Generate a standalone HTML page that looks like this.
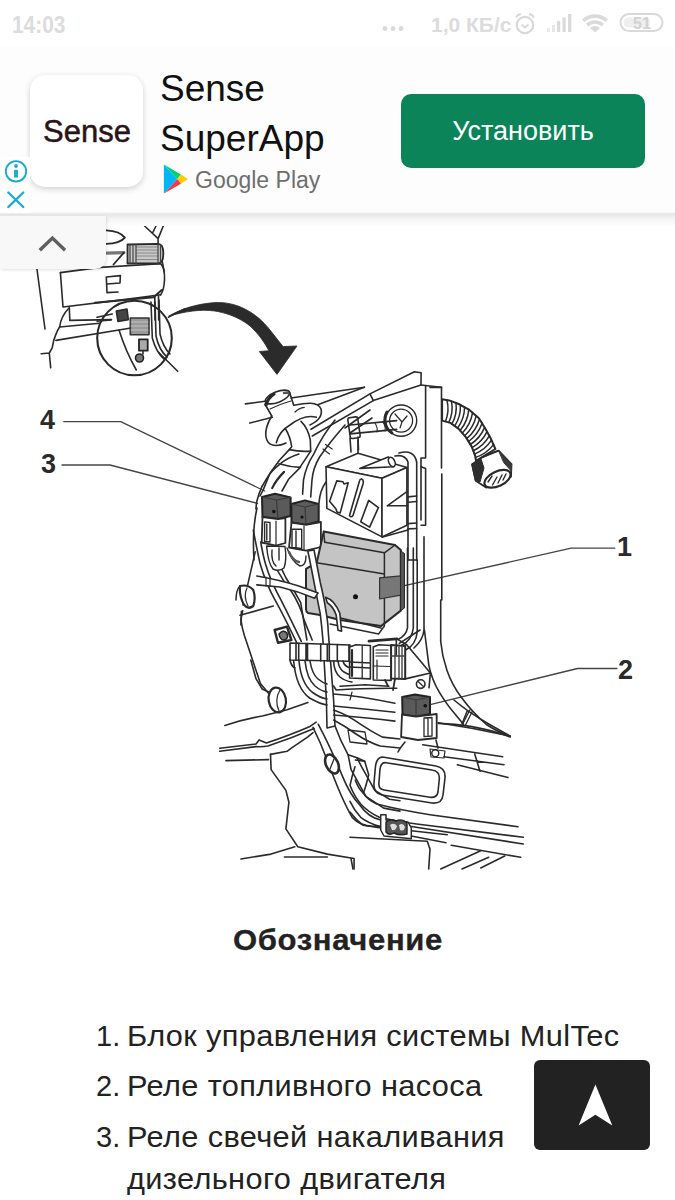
<!DOCTYPE html>
<html><head><meta charset="utf-8">
<style>
*{margin:0;padding:0;box-sizing:border-box}
html,body{width:675px;height:1200px;overflow:hidden;background:#fff;font-family:"Liberation Sans",sans-serif}
.abs{position:absolute}
#status{left:0;top:0;width:675px;height:50px;color:#dcdcdc;font-weight:bold}
#ad{left:0;top:47px;width:675px;height:167px;background:#fdfdfd}
#adline{left:0;top:212px;width:675px;height:6px;background:linear-gradient(#fafafa,#e6e6e6 40%,#f2f2f2)}
#shade{left:0;top:218px;width:675px;height:8px;background:linear-gradient(#f3f3f3,#fff)}
#icon{left:30px;top:75px;width:113px;height:112px;border-radius:15px;background:#fff;box-shadow:0 2px 6px rgba(0,0,0,.18)}
#tab{left:0;top:216px;width:106px;height:53px;background:#f8f8f8;border-radius:0 0 11px 0;box-shadow:1px 1px 3px rgba(0,0,0,.12)}
#btn{left:401px;top:94px;width:244px;height:74px;border-radius:10px;background:#0b845a;color:#fff;font-size:27px;text-align:center;line-height:74px}
.t{position:absolute;white-space:nowrap}
#diag{position:absolute;left:0;top:0}
#up{left:534px;top:1060px;width:116px;height:90px;border-radius:6px;background:#222}
</style></head><body>
<svg id="diag" width="675" height="1200" viewBox="0 0 675 1200" fill="none" stroke="#2a2a2a" stroke-width="1.6" stroke-linecap="round" stroke-linejoin="round">

<path d="M36 262 L45 329"/>
<path d="M60.4 272.6 L63 307 L130 298.9 L160.7 294.8"/>
<path d="M60.4 272.6 L100 267.4 L160.7 263.7 Q165 268 164.5 280 Q164 290 160.7 294.8"/>
<path d="M107 284 L120 283 L120.4 275.6 L106.3 277 L107 292.6 L118 292"/>
<path d="M106.2 230.3 Q120 231 124.9 237.6 Q120 243.5 106.2 243.8" stroke-width="1.8"/>
<path d="M106.2 253.1 L123.9 252.6" stroke-width="3.2" stroke="#777"/>
<path d="M123.9 252.6 L113.5 264.5" stroke-width="1.8"/>
<path d="M127.5 244.5 L158 243.8 Q163.5 244 163.3 253.5 Q163.5 263 158 263.5 L127.5 263.5 Z" fill="#c8c8c8" stroke-width="1.8"/>
<path d="M136 247 H158 M136 250 H158 M136 253 H158 M136 256 H158 M136 259.5 H158" stroke="#8a8a8a" stroke-width="1"/>
<path d="M130 244.5 V263.5 M133 244.5 V263.5 M136 244.5 V263.5 M158 244 V263.5 M160.5 245 V262.5" stroke="#444" stroke-width="1.2"/>
<path d="M144.6 226 L158.1 238.6 L158.1 243.8 M156 226 L152.9 232.4 M163.3 226 L158.1 238.6"/>
<path d="M162.2 261.4 L164.3 272"/>
<path d="M69.3 307.8 Q61 316 59.6 327 Q57 331 55.9 334.4 L53.7 340.4 L52.2 347.8 L49.3 353 L50.7 367.8 M49.3 353 L41.1 353.7"/>
<path d="M69.3 307.8 L69.8 320.4 L111.5 319.6 M59.6 327 L99.6 323.3"/>
<path d="M55.9 340.4 L131 328"/>
<path d="M154.8 296 L155 320 M158.5 296 L158.7 320"/>

<circle cx="134.5" cy="338" r="37.3" stroke-width="2.1"/>
<path d="M95 302.7 L153.7 297.3 L161.7 290" stroke-width="2"/>
<path d="M97 317.3 L112.3 314 M97 321.3 L111 320"/>
<path d="M119 330 Q126 352 136.3 370"/>
<path d="M151 302 L152.3 338 Q156 352 164.3 359.3 M155 302 L156 336 Q159 350 167 357 M159 300 L160 334 Q163 347 170 354"/>
<path d="M159 352.7 L177.7 371.3"/>
<path d="M116.3 311 L127 309 L128.3 319.7 L118 321.5 Z" fill="#444"/>
<rect x="130.3" y="318" width="18.7" height="16.7" fill="#9a9a9a" stroke="#333"/>
<path d="M131 322 H148 M131 326 H148 M131 330 H148" stroke="#ccc" stroke-width="0.8"/>
<rect x="139" y="339.3" width="8.7" height="11.4" fill="#aaa" stroke="#222" stroke-width="1.8"/>
<circle cx="139.5" cy="358" r="4" fill="#777" stroke="#222"/>
<path d="M143 351 L143 354"/>

<path d="M168.9 316.1 C180 309.5 195 304 214.8 302.6 C236 301.3 256 312 270 330 L283 346.5 L297 346 L277 374.4 L259.3 351.5 L268.9 350.7 C262 338 253 327 244.4 321.9 C236 316.5 225 312.6 214.8 311 C200 309 185 311.5 168.9 316.1 Z" fill="#2b2b2b" stroke="#2b2b2b" stroke-width="0.8"/>
<path d="M168.3 317.3 L185 308.7" stroke-width="1.3"/>

<g stroke="#444" stroke-width="1.3">
<path d="M63.8 421.7 L120.7 421.7 L264.7 491"/>
<path d="M62 465 L110 465 L257.6 503.4"/>
<path d="M614.8 548.2 L571.2 548.2 L355.5 596.7"/>
<path d="M616.9 668.5 L577.5 668.5 L425.2 705.8"/>
</g>
<g fill="#2a2a2a" stroke="none" font-family="Liberation Sans" font-weight="bold" font-size="27">
<text x="40" y="429">4</text>
<text x="41" y="472.5">3</text>
<text x="617" y="555.5">1</text>
<text x="618" y="678.5">2</text>
</g>


<ellipse cx="277.5" cy="397" rx="13" ry="5.3" transform="rotate(-22 277.5 397)" stroke-width="1.6"/>
<path d="M266 405 Q268 398 274 394" stroke-width="3.2"/>
<path d="M284 393 Q288 392 289.5 394" stroke-width="2.5" stroke="#555"/>
<path d="M265 404 L271.7 416 M289.7 392.7 L293.7 405.3"/>
<path d="M270 409 Q280 404 291 401" stroke-width="1.1"/>
<path d="M293.7 405.3 C305 403 318 401 321 409 C323 416 318 421 310 425"/>
<path d="M271.7 416 C266 426 264 436 268 442 C272 447 280 446 286 443"/>
<path d="M276.3 442.7 C278 436 283 429 290 425 C298 419 308 415 316.3 417.3"/>
<path d="M295 412 Q299 408 304.3 407.3" stroke-width="1.2"/>
<path d="M285.7 429.3 Q290 436 291.7 446.7 L289.3 449.6 L279.6 460 L270 473.3 L263.3 489.6 L260 496"/>
<path d="M301 421.3 Q308 428 310.3 440 L310.7 451.1 L298.9 468.9 L288.5 479.3 L282 491"/>
<path d="M289.3 449.6 Q300 452 310.7 451.1 M279 463.7 Q290 467 300.4 467.4"/>
<path d="M284.1 471.9 Q276 480 272.2 488.1" stroke-width="2.2"/>
<path d="M298.9 454.1 Q287 458 279.6 464.4 Q270 472 266.3 479.3 Q261 487 258.9 494.1 Q256 502 255.9 509"/>
<path d="M245.4 403.9 L265 401.2 M291 398 L364.4 387.2"/>
<path d="M249.8 423.1 L272.3 417.3 M317.7 404.7 L364.4 387.2"/>
<path d="M311 429.3 L370 393.9 M312.3 436 L373.3 400.6"/>

<path d="M335 420 Q322 436 313.7 454.1 Q306 466 303.5 480 L302.6 494.1"/>
<path d="M345 425 Q330 442 319.6 457 Q313 468 312 480 L310.7 497"/>
<path d="M325.6 444.4 L332.2 449 M323 449 L329.5 454" stroke-width="1.2"/>
<path d="M345 428 L370 410 M350 433 L372 418" />

<path d="M370 393.9 L414.4 371.7 L421.1 372.8 L421 385 L373.3 400.6 Z"/>
<path d="M421 385 L441.5 387.2 L441.5 468 M441.8 474 L441.8 600"/>
<path d="M425.6 386 L425.6 458 L421 458 L421 520"/>
<path d="M430 387.4 L441.5 387.4"/>

<circle cx="401.1" cy="420.6" r="15.6" stroke-width="1.4"/>
<path d="M387 412 A15.6 15.6 0 0 0 392 433" stroke-width="3"/>
<circle cx="401.1" cy="420.6" r="11.5" stroke-width="1.3"/>
<path d="M395 414 L402 422 L407 416 M402 422 L400 428" stroke-width="1.2"/>

<path d="M350 425 L396.7 420.6 M350 433.9 L396.7 429.4"/>
<path d="M375 423 Q378 428 377 432 M383 422 Q386 427 385 431" stroke-width="1.1"/>
<rect x="348.9" y="417.2" width="10" height="21" rx="2" transform="rotate(-8 354 427)"/>
<path d="M350 438 L351 452 M358 437 L358.5 450"/>

<path d="M442.1 399.2 L449.2 400.4 L458.7 404.0 L469.4 409.9 L478.9 418.2 L484.8 427.7 L490.7 438.3 L495.4 449.0 L476.0 460.9 L475.3 456.1 L471.7 446.6 L465.8 437.1 L458.7 428.9 L450.4 422.9 L442.1 420.6 Z" fill="#fff" stroke-width="2"/>
<path d="M446.9 400.0 Q449.7 411.0 445.5 421.5 M451.5 401.3 Q453.6 412.3 448.8 422.5 M456.0 403.0 Q457.4 414.2 451.9 424.0 M460.4 404.9 Q461.0 416.4 454.7 426.0 M464.6 407.3 Q464.4 418.8 457.6 428.1 M468.8 409.6 Q467.7 421.4 460.1 430.5 M472.6 412.7 Q470.6 424.5 462.4 433.1 M476.2 415.8 Q473.5 427.6 464.7 435.8 M479.5 419.2 Q476.0 430.8 466.7 438.6 M482.1 423.3 Q478.1 434.5 468.6 441.5 M484.6 427.4 Q480.2 438.2 470.4 444.5 M487.0 431.6 Q482.1 442.0 472.1 447.6 M489.3 435.9 Q483.7 445.9 473.3 450.8 M491.5 440.2 Q485.3 449.8 474.5 454.1 M493.5 444.6 Q486.5 453.9 475.5 457.4" stroke-width="1.5"/>

<path d="M472.1 464.2 L482 457.5 L498.6 450.7 L511.5 464.2 L511 476.7 L486.1 487.6 L475.7 480.8 Z" fill="#fff" stroke-width="1.8"/>
<path d="M472.1 464.2 L481 459 L484 468 L480 482 L475.7 480.8 Z" fill="#2e2e2e" stroke="#2e2e2e" stroke-width="1"/>
<path d="M499 451.5 L511.5 464.2 L511.3 471 L504 463 Z" fill="#3a3a3a" stroke="#3a3a3a" stroke-width="1"/>
<path d="M482 457.5 Q492 452 498.6 450.7" stroke-width="1.4"/>
<ellipse cx="497.5" cy="478.8" rx="14" ry="7.3" transform="rotate(-25 497.5 478.8)" fill="#fff" stroke-width="2.2"/>
<path d="M488 482 L492 476 M492.5 485 L497 477 M498 483 L502 475 M503 480 L506 474" stroke-width="1.4"/>


<path d="M326 466.7 L358 453.3 L406.9 467.6 L382 478.2 Z" fill="#fff"/>
<path d="M326 466.7 L382 478.2 L382 536.9 L326.9 508.4 Z" fill="#fff"/>
<path d="M382 478.2 L406.9 467.6 L406.9 525.3 L382 536.9 Z" fill="#fff"/>
<path d="M336.7 480.9 L343 481.8 L344 484 L348.2 482.7 L340.2 512.9 L337 512 L336 509 L329.6 501.3 Z"/>
<path d="M361.6 479.1 Q364 480 363 484 L353 515.5 Q351 518 349.5 515.5 L359.5 481 Q360 478.8 361.6 479.1 Z"/>
<path d="M368.7 500.4 L378.4 507.6 L369.6 527.1 L360.7 521.8 Z"/>
<path d="M359.8 468.4 L388.2 456.9 L393.6 466.7 Z" fill="#fff"/>
<ellipse cx="391.8" cy="462" rx="3" ry="5" transform="rotate(-25 391.8 462)" fill="#fff"/>
<path d="M387.3 505.8 L406.9 491.6 M387.3 505.8 L407.8 505.8"/>
<path d="M358 440 L358 453.3"/>

<path d="M395 456 Q405 454 408 462 L408 560 M399 453 Q414 449 416.7 462 L416.7 560"/>
<path d="M408 496.9 L416.7 496 M408 502.2 L416.7 501.5 M408 523.6 L416.7 523 M408 528.9 L416.7 528.5"/>
<path d="M421.1 466.7 L425.6 468.4 L425.6 525.3 L421.1 525.3"/>

<path d="M262 497 L275 493.7 L290.6 497.4 L290.6 516 L278 519 L262.5 517 Z" fill="#5a5a5a" stroke="#222" stroke-width="2"/>
<path d="M262 497 L276.5 500 L290.6 497.4 M276.5 500 L278 519" stroke="#3a3a3a" stroke-width="1.2"/>
<circle cx="273.8" cy="511.5" r="1.8" fill="#111" stroke="none"/>
<path d="M262.5 517 L278 519 L285.4 518 L285.4 543 L276 545.6 L261.7 542.5 Z" fill="#fff" stroke-width="1.8"/>
<path d="M276 521 L276 545" stroke-width="1.2"/>
<path d="M264.6 521.9 L270 522.5 L270 542 L264.6 541.5 Z M266.8 524 L266.8 540" stroke-width="1.4"/>

<path d="M291.3 504 L305 500.4 L318.7 504 L318.7 521.5 L306 524.8 L291.5 522.5 Z" fill="#5c5c5c" stroke="#222" stroke-width="2"/>
<path d="M291.3 504 L305 507 L318.7 504 M305 507 L306 524.8" stroke="#3a3a3a" stroke-width="1.2"/>
<circle cx="302" cy="517" r="1.6" fill="#111" stroke="none"/>
<path d="M291.5 522.5 L306 524.8 L320.9 522 L320.9 547 L306 550.7 L289 547.5 Z" fill="#fff" stroke-width="1.8"/>
<path d="M304 526 L304 550" stroke-width="1.2"/>
<path d="M292 529.3 L301.7 529.3 L301.7 548.5 L292 547.5 Z M296 531 L296 547" stroke-width="1.4"/>

<path d="M257 508 Q252 530 254 560"/>
<path d="M319 503 Q320 490 326 482"/>


<path d="M323.7 531.6 L395 545 L400.8 550 L400.8 610.6 L381 626.1 L340 620 L320 615 L308 613 Q306 612 306 609 L306 568.9 L316.7 562.7 Z" fill="#c4c4c4" stroke="#2a2a2a" stroke-width="2"/>
<path d="M324.7 542.2 L384.4 552.8 L395 545 M316.7 562.7 L384.4 574 M384.4 552.8 L384.4 626" stroke-width="1.5"/>
<path d="M323.7 531.6 L324.7 542.2" stroke-width="1.5"/>
<path d="M379.6 577.8 L400.8 575.9 L400.8 595.1 L379.6 599 Z" fill="#777" stroke="#333" stroke-width="1.2"/>
<circle cx="355.5" cy="596.7" r="2.5" fill="#111" stroke="none"/>
<path d="M400.8 551 L404.5 553.5 L404.5 608 L400.8 610.6 Z" fill="#555" stroke-width="1"/>
<path d="M339.8 617.8 L381 628 M330 624 L378.6 634 L384.4 626" stroke-width="1.4"/>

<path d="M307.8 551 Q309 556 314.9 586.7 Q318 603 320.2 613.3 Q322 628 322.9 640 L326.4 700 L327 728 L335 726 L333.6 700 L328.2 631.1 Q328 622 325.6 608.9 Q324 598 320.2 582.2 Q316 560 314 550 Z" fill="#fff" stroke-width="1.6"/>

<path d="M325.6 597.3 Q334.4 600 339.8 613.3 L341.6 631.1 L338 630.2 L336.2 615.1 Q333 606 327.3 602.7 Z" fill="#fff"/>

<path d="M253.3 530 Q256 545 260 563.3 Q266 584 274.7 599.3 Q283 614 296.7 642.7"/>
<path d="M260.7 542 Q263 555 265.3 563.3 Q270 580 281.3 600.7 Q290 618 301.3 641.3"/>
<path d="M266.7 547 Q276 572 290 589.3 Q300 604 304.2 620.4 L312.2 640"/>
<path d="M272 546 Q280 566 286 578 Q294 590 300.7 602.7 L306.9 640"/>

<path d="M256.8 576 Q280 580 298.7 586 L318.1 592.9 L314.6 598.2 Q297 591 280 587 L256.8 584.9" fill="#fff"/>
<path d="M266 577.2 L266 586 M270 577.8 L270 586.5" stroke-width="1.2"/>

<path d="M266.6 546 L285 546.5 Q287 560 284 568 Q279 572 273 569 Q268 563 266.6 546 Z" fill="#fff" stroke-width="1.4"/>
<path d="M272 550 Q271 562 276 566 M279 548 L279 560" stroke-width="1.4"/>
<path d="M287 548 Q292 562 300 566 Q306 566 306 556" stroke-width="1.4"/>
<path d="M289 552 Q293 561 299 562" stroke-width="2.4" stroke="#555"/>

<path d="M407.5 548 L407.5 627.9 Q406 636 397.9 639.5 M413.3 548 L413.3 628 Q412 640 402 645 M417.2 560 L417.2 632 Q416 645 405.6 650"/>
<path d="M408 560 L416.7 560" />
<path d="M424 536.7 L424 630 Q423 640 414 648"/>
<path d="M382.7 536.9 L408 530"/>

<path d="M255.2 551.9 L247.8 584.4 L243 605 M241.4 611.4 L240.9 625"/>
<path d="M240 586 Q248 584 253.3 590 Q256 598 253.3 606 Q248 610 244 604.7 Q239 596 240 586 Z" stroke-width="2.2" fill="#fff"/>
<path d="M247 588 Q243 596 248 606" stroke-width="1.2"/>
<path d="M236 600 Q236 590 240 586" stroke-width="1.5"/>
<path d="M240 615.3 L273.3 606"/>


<path d="M242.7 610.7 L240.9 619.6 Q242 628 244.4 635.6 L253.3 662.2 L260.4 683.6 L269.3 694.2"/>
<ellipse cx="277.3" cy="700" rx="8.6" ry="12.5" transform="rotate(-10 277.3 700)" stroke-width="2.2" fill="#fff"/>
<path d="M280 690 Q274 700 279 711" stroke-width="1.2"/>
<path d="M274.6 630 L287 626.7 L291.4 640 L278 642.7 Z" fill="#fff" stroke-width="2.4"/>
<path d="M279 634 Q283 629 287 633 Q289 639 284 640 Q280 640 279 634 Z" fill="#777" stroke="#222" stroke-width="1.5"/>

<path d="M290 643 L350 645 L350 661.3 L290 660 Z" fill="#fff"/>
<path d="M296 643.2 L296 660.2 M298.7 643.3 L298.7 660.3 M306 643.5 L306 660.5 M307.5 643.6 L307.5 660.5 M320.7 644 L320.7 661 M327.3 644.2 L327.3 661 M329.3 644.3 L329.3 661 M337.3 644.6 L337.3 661.2 M349 645 L349 661.3"/>
<path d="M290 660 Q291 666 295 668"/>

<path d="M293.6 660.7 Q296 688 309.6 698 Q320 704 327 705"/>
<path d="M299 661 Q301 683 312 692 Q320 698 327 699"/>
<path d="M305 661 Q307 679 315 686 Q321 691 327 692"/>
<path d="M310 661 Q312 674 318 679 Q323 683 327 684"/>
<path d="M333.6 661 Q334 672 340 677 Q345 681 352 682"/>
<path d="M338 661 Q339 669 344 672 Q350 676 360 676"/>
<path d="M343 661 Q344 666 350 668"/>
<path d="M333.6 686 L336.2 690 Q360 688 396.7 688.2 M333.6 694 Q360 696 394.9 703.3 M333.6 706 Q365 709 394.9 712.2 M333.6 715 Q370 718 394.9 721.1"/>
<path d="M333.6 710 Q348 715 361.1 724.7 Q372 732 382.4 737.1 L400 739"/>
<path d="M333.6 720 Q345 726 356 734 Q368 742 380 746 L400 748"/>
<path d="M348 730 L350 742 L367 744 L365 732 Z" stroke-width="1.3"/>
<path d="M350 700 L352 692" stroke-width="1.2"/>

<path d="M349.6 647 L356 644.8 L370.4 645.5 L370.4 678.9 L349.6 678 Z" fill="#fff" stroke-width="1.6"/>
<path d="M362.2 646 L362.2 678.5 M349.6 662 L370.4 663 M349.6 667 L370.4 668" stroke-width="1.3"/>
<path d="M352 650 L352 676" stroke-width="2.2"/>
<path d="M373.3 647 L379 644.8 L391.1 645.5 L391.1 680.4 L373.3 680 Z" fill="#fff" stroke-width="1.6"/>
<path d="M376 650 L388 650 M376 653 L388 653 M376 656 L388 656 M377 660 L377 679 M373.3 666 L391.1 666.5" stroke-width="1.2"/>
<path d="M391.1 645 L405.2 646 L405.2 678.9 L391.1 678.5 Z" stroke-width="2"/>
<path d="M395 647 L395 678 M399 647 L399 678 M402 647 L402 678 M391 656 L405 656" stroke-width="1.4" stroke="#444"/>
<path d="M396.3 638.9 L396.3 655" stroke-width="1.6"/>
<path d="M368.9 641.1 L397 638.9" stroke-width="2.6"/>
<path d="M385 680 L388 686 M395 679 L393 690" stroke-width="1.8"/>

<path d="M397 638.9 L406.7 644.8 L430.4 673 L429 687.8"/>
<path d="M405.2 678.9 L430.4 673"/>
<path d="M399.3 643.3 L420 630"/>
<circle cx="420.7" cy="684.1" r="4.3" stroke-width="1.6"/>
<path d="M418 681.5 L423.5 686.5" stroke-width="1.2"/>
<path d="M340 686.3 L365.2 684.8 L388.9 686.3"/>

<path d="M402.2 697 L415 694.4 L430 697 L430 714 L416 716.7 L402.5 714.5 Z" fill="#5a5a5a" stroke="#222" stroke-width="2"/>
<path d="M402.2 697 L416 700 L430 697 M416 700 L416 716.7" stroke="#3a3a3a" stroke-width="1.2"/>
<circle cx="425.2" cy="705.8" r="1.8" fill="#111" stroke="none"/>
<path d="M402 714.5 L416 716.7 L436.7 714 L436.7 738 L418 740 L401.1 737 Z" fill="#fff" stroke-width="1.8"/>
<path d="M424 718 L432 717.5 L432 736 L424 736.5 Z M428 719 L428 735" stroke-width="1.3"/>

<path d="M424.4 630 L428.9 665.6 Q432 680 439.3 692.2 Q447 705 455 714 Q460 720 463.6 724.5"/>
<path d="M440.7 600 L440.7 641.5 Q442 656 447 670.5 Q452 685 461.5 697.5 Q472 712 486.4 724.5 Q498 732 509.2 735.9"/>
<path d="M438.7 723.4 Q455 724 471.9 726.6 Q492 730 510.2 736.9" stroke-width="1.8"/>
<path d="M469.8 710 L462.5 724.5 M472.5 711 L465.5 725" stroke-width="1.3"/>

<path d="M422.7 744.7 L502.7 756.7 M444 756.7 L504 764.7 M457.3 764.7 L508 777.5 M474.7 754 L480 771.3"/>
<path d="M405 742 Q400 748 398 752 M436 740 L438 748"/>
<circle cx="435.3" cy="753.3" r="3.5" stroke-width="1.4"/>
<path d="M430 749 L445 751 L444 758 L431 757 Z" stroke-width="1.2"/>


<path d="M224.9 725.4 Q245 719 262.2 716 Q275 713 287.1 709.8 L307.9 702.5"/>
<path d="M219.7 748.2 L256 744 L259.1 739.9 L266.4 743 Q290 735 310 726.4 L316.2 722.2"/>
<path d="M219.7 751.3 L256 746.6 Q262 747 268 746 Q292 738 314.1 728.5"/>
<path d="M225.9 760.6 L268.5 759.6"/>
<path d="M250.8 660 L256 678.7 L262.2 689 L268.5 692"/>

<path d="M270.5 754.4 L287.1 751.3 L291.3 748.2 L307.9 736.8 L313 732.6"/>
<path d="M270.5 754.4 L271.1 769.6 L285.9 790.4 L288.9 802.2 L285.9 828.9 L297.8 846.7 L327.4 854.1 L354.1 858.5 L354.1 868.9"/>
<path d="M241 859 L271.1 854.1 L294.8 846.7 M284.4 857 L327.4 857"/>

<path d="M313 727.4 L320.3 743 L328.6 763.7 Q342 800 352.2 817.4 Q362 828 377.8 825.9 L400 831.9"/>
<path d="M318.3 724.3 Q330 746 342.2 775.6 Q350 795 360 805.2 Q368 817 380.7 820 L400 824.4"/>
<path d="M335 726 Q340 740 348.1 754.8 L351.1 769.6 L365.9 796.3 L383.7 808.1 L400 811.1"/>
<path d="M357 757.8 L361.5 766.7 L374.8 790.4 L389.6 799.3 L400 800.7"/>
<path d="M348.1 754.8 L357 757.8 L364.7 761.3"/>
<ellipse cx="332" cy="764" rx="6" ry="10" transform="rotate(-25 332 764)" fill="#fff" stroke-width="2.6"/>
<path d="M330 769 L334 759" stroke-width="1.3"/>

<path d="M384 757.3 L436 766 Q446 768 445 778 L443 795 Q442 804 432 803 L382 795 Q373 793 374 783 L375.5 766 Q377 756 384 757.3 Z"/>
<path d="M386 762.7 L432 770 Q440 771 439.3 779 L438 792 Q437 798 430 797.3 L384 790 Q378 789 379 782 L380 769 Q381 762 386 762.7 Z"/>

<path d="M355.3 760 L364.7 761.3 L368.7 774.7 Q366 786 363.3 793.3 M355.3 780 Q358 788 363.3 793.3 Q368 800 376.7 804 Q400 810 430 814.7 L518 826.7"/>
<path d="M355 766.7 Q352 776 350 785.3 Q354 796 360.7 804 Q368 812 379.3 817.3 Q398 822 416.7 824 L523.3 837.3"/>
<path d="M350 801.3 Q354 810 360.7 817.3 Q368 823 380.7 826.7"/>
<path d="M350 812 Q356 820 363.3 825.3 L380.7 828"/>
<path d="M411.3 830.7 L447.3 834.7 M411.3 836 L446 842.7 M403.3 825.3 L523.3 844 M451.3 845.3 L520.7 857.3"/>
<path d="M440.7 869 L480.7 850.7 M462 869 L488.7 857.3 M480.7 868 L504.7 856"/>
<path d="M350 837.3 L427.3 841.3 L430 849.3 L428.7 869"/>
<path d="M351 858.7 L353 869" />
<path d="M380.7 814.7 L386 814.7 L386 820 L408 822 L411.3 828 L411.3 838.7 L384 836 L380.7 830 Z" fill="#fff" stroke-width="1.5"/>
<path d="M386 822 Q390 818 396 821 Q402 818 407 823 L407 834 Q400 836 394 833 Q389 836 386 832 Z" fill="#555" stroke="#222" stroke-width="1.4"/>
<path d="M390 825 Q394 822 397 826 Q396 831 392 830 Z M399 825 Q403 822 405 827 Q404 832 400 830 Z" fill="#ddd" stroke="none"/>

<path d="M438 722.7 Q475 728 510 736"/>
<path d="M454 700 Q468 712 488.7 724 L510 736 M467.3 710.7 L462 724"/>

</svg>

<div class="abs" id="status"></div>
<div class="t" style="left:12px;top:11px;font-size:24px;font-weight:bold;color:#dcdcdc;transform:scaleX(0.87);transform-origin:0 0">14:03</div>
<div class="t" style="left:431px;top:13px;font-size:21px;font-weight:bold;color:#dcdcdc">1,0 КБ/с</div>

<div class="abs" id="ad"></div>
<div class="abs" id="adline"></div>
<div class="abs" id="shade"></div>
<div class="abs" id="icon"></div>
<div class="t" style="left:43px;top:114px;font-size:31px;color:#2a1418;-webkit-text-stroke:0.5px #2a1418">Sense</div>
<div class="t" style="left:160px;top:68px;font-size:37px;color:#111">Sense</div>
<div class="t" style="left:160px;top:118px;font-size:37px;color:#111">SuperApp</div>
<div class="t" style="left:195px;top:166.5px;font-size:23px;color:#6e6e6e">Google Play</div>

<svg class="abs" style="left:0;top:0" width="675" height="270" viewBox="0 0 675 270">
 <g fill="none" stroke="#d9d9d9" stroke-width="2.2">
  <circle cx="525" cy="25" r="8.2"/>
  <path d="M521.5 24.5 l3.5 3 3.5 -3" stroke-width="1.8"/>
  <path d="M516 17.5 q1.5 -3 5 -3.5 M534 17.5 q-1.5 -3 -5 -3.5" stroke-width="2"/>
  <rect x="620.5" y="14" width="42" height="17" rx="8.5" stroke-width="2"/>
 </g>
 <rect x="624" y="17.5" width="26" height="10" rx="4" fill="#efefef"/>
 <text x="633" y="29" font-family="Liberation Sans" font-weight="bold" font-size="16" fill="#d2d2d2">51</text>
 <g fill="#dadada">
  <rect x="547" y="28" width="3" height="4" fill="#eaeaea"/>
  <rect x="552" y="25" width="3" height="7" fill="#e6e6e6"/>
  <rect x="557" y="21" width="3.2" height="11"/>
  <rect x="562.5" y="17.5" width="3.2" height="14.5"/>
  <rect x="568" y="14" width="3.4" height="18"/>
  <path d="M582 19.5 a19 19 0 0 1 26 0 l-2.4 2.6 a15.5 15.5 0 0 0 -21.2 0z"/>
  <path d="M586 23.8 a13 13 0 0 1 18 0 l-2.4 2.6 a9.5 9.5 0 0 0 -13.2 0z"/>
  <path d="M590 28 a7 7 0 0 1 10 0 l-5 4.5z"/>
  <circle cx="385" cy="28.5" r="2.4"/><circle cx="393" cy="28.5" r="2.4"/><circle cx="401" cy="28.5" r="2.4"/>
 </g>
 <path d="M163.9 164.6 L181 174.4 L177.2 179 Z" fill="#00d46e"/>
 <path d="M181 174.4 L188 179 L181 183.7 L177.2 179 Z" fill="#ffcc00"/>
 <path d="M177.2 179 L181 183.7 L163.9 193.5 Z" fill="#f23a4e"/>
 <path d="M163.9 164.6 L177.2 179 L163.9 193.5 Z" fill="#00b6f5"/>
 <rect x="0" y="157" width="30" height="56" fill="#fff"/>
 <circle cx="16" cy="171.3" r="10.2" fill="none" stroke="#17abd0" stroke-width="1.9"/>
 <circle cx="16" cy="166" r="1.9" fill="#17abd0"/>
 <rect x="14.1" y="169.8" width="3.8" height="7.8" fill="#17abd0"/>
 <path d="M8.3 192.5 L23.3 207 M23.3 192.5 L8.3 207" stroke="#17abd0" stroke-width="2.3" stroke-linecap="round"/>
</svg>
<div class="abs" id="btn">Установить</div>
<div class="abs" id="tab"></div>
<svg class="abs" style="left:0;top:216px" width="106" height="53"><path d="M41 33 L52.4 22 L63.8 33" fill="none" stroke="#5f5f5f" stroke-width="3.4" stroke-linecap="square"/></svg>

<div class="t" style="left:233px;top:923px;font-size:29px;line-height:34px;font-weight:bold;color:#222;letter-spacing:0.6px;transform:scaleX(1.07);transform-origin:0 0;-webkit-text-stroke:0.3px #222">Обозначение</div>
<div class="t" style="left:96px;top:1019px;font-size:29px;line-height:34px;color:#222">1.</div>
<div class="t" style="left:127px;top:1019px;font-size:29px;line-height:34px;color:#222;letter-spacing:0.35px;transform:scaleX(1.06);transform-origin:0 0">Блок управления системы MulTec</div>
<div class="t" style="left:96px;top:1069px;font-size:29px;line-height:34px;color:#222">2.</div>
<div class="t" style="left:127px;top:1069px;font-size:29px;line-height:34px;color:#222;letter-spacing:0.35px;transform:scaleX(1.06);transform-origin:0 0">Реле топливного насоса</div>
<div class="t" style="left:96px;top:1120px;font-size:29px;line-height:34px;color:#222">3.</div>
<div class="t" style="left:127px;top:1120px;font-size:29px;line-height:34px;color:#222;letter-spacing:0.35px;transform:scaleX(1.06);transform-origin:0 0">Реле свечей накаливания</div>
<div class="t" style="left:127px;top:1162px;font-size:29px;line-height:34px;color:#222;letter-spacing:0.35px;transform:scaleX(1.06);transform-origin:0 0">дизельного двигателя</div>
<div class="abs" id="up"></div>
<svg class="abs" style="left:0;top:0" width="675" height="1200"><path d="M595.4 1084.6 L612.3 1125.6 L595.4 1114.7 L578.6 1125.6 Z" fill="#fff"/></svg>
</body></html>
